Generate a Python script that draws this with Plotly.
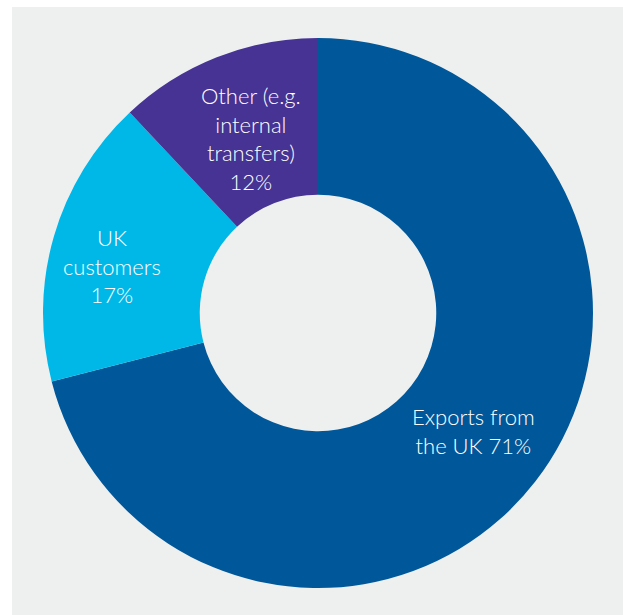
import plotly.graph_objects as go

categories = ["Exports from the UK", "UK customers", "Other (e.g. internal transfers)"]
values = [71, 17, 12]
label_texts = ["Exports from<br>the UK 71%", "UK<br>customers<br>17%", "Other (e.g.<br>internal<br>transfers)<br>12%"]
colors = ["#00589a", "#00b8e8", "#463393"]

W, H = 623, 615
ML, MT = 12, 7
PW, PH = W - ML, H - MT

def px(x):
    return (x - ML) / PW

def py(y):
    return (H - y) / PH

fig = go.Figure(go.Pie(
    labels=categories,
    values=values,
    hole=0.43,
    sort=False,
    direction="clockwise",
    rotation=0,
    marker=dict(colors=colors, line=dict(width=0)),
    textinfo="none",
    hoverinfo="skip",
    showlegend=False,
    domain=dict(x=[px(43), px(593)], y=[py(588), py(38)]),
))

label_pos = [(473, 431), (112, 266), (251, 138)]
for t, (x, y) in zip(label_texts, label_pos):
    fig.add_annotation(x=px(x), y=py(y), xref="paper", yref="paper", text=t,
                       showarrow=False, font=dict(color="white", size=22, family="Lato", weight=300),
                       align="center", xanchor="center", yanchor="middle")

fig.add_shape(type="rect", xref="paper", yref="paper", x0=0, x1=1, y0=0, y1=1,
              fillcolor="#eef0f0", line=dict(width=0), layer="below")

fig.update_layout(
    width=W, height=H,
    margin=dict(l=ML, r=0, t=MT, b=0),
    paper_bgcolor="white",
    plot_bgcolor="#eef0f0",
    font=dict(family="Lato"),
)

fig.write_html("out.html", config={"displayModeBar": False},
               post_script="document.body.style.margin='0';document.body.style.overflow='hidden';")
